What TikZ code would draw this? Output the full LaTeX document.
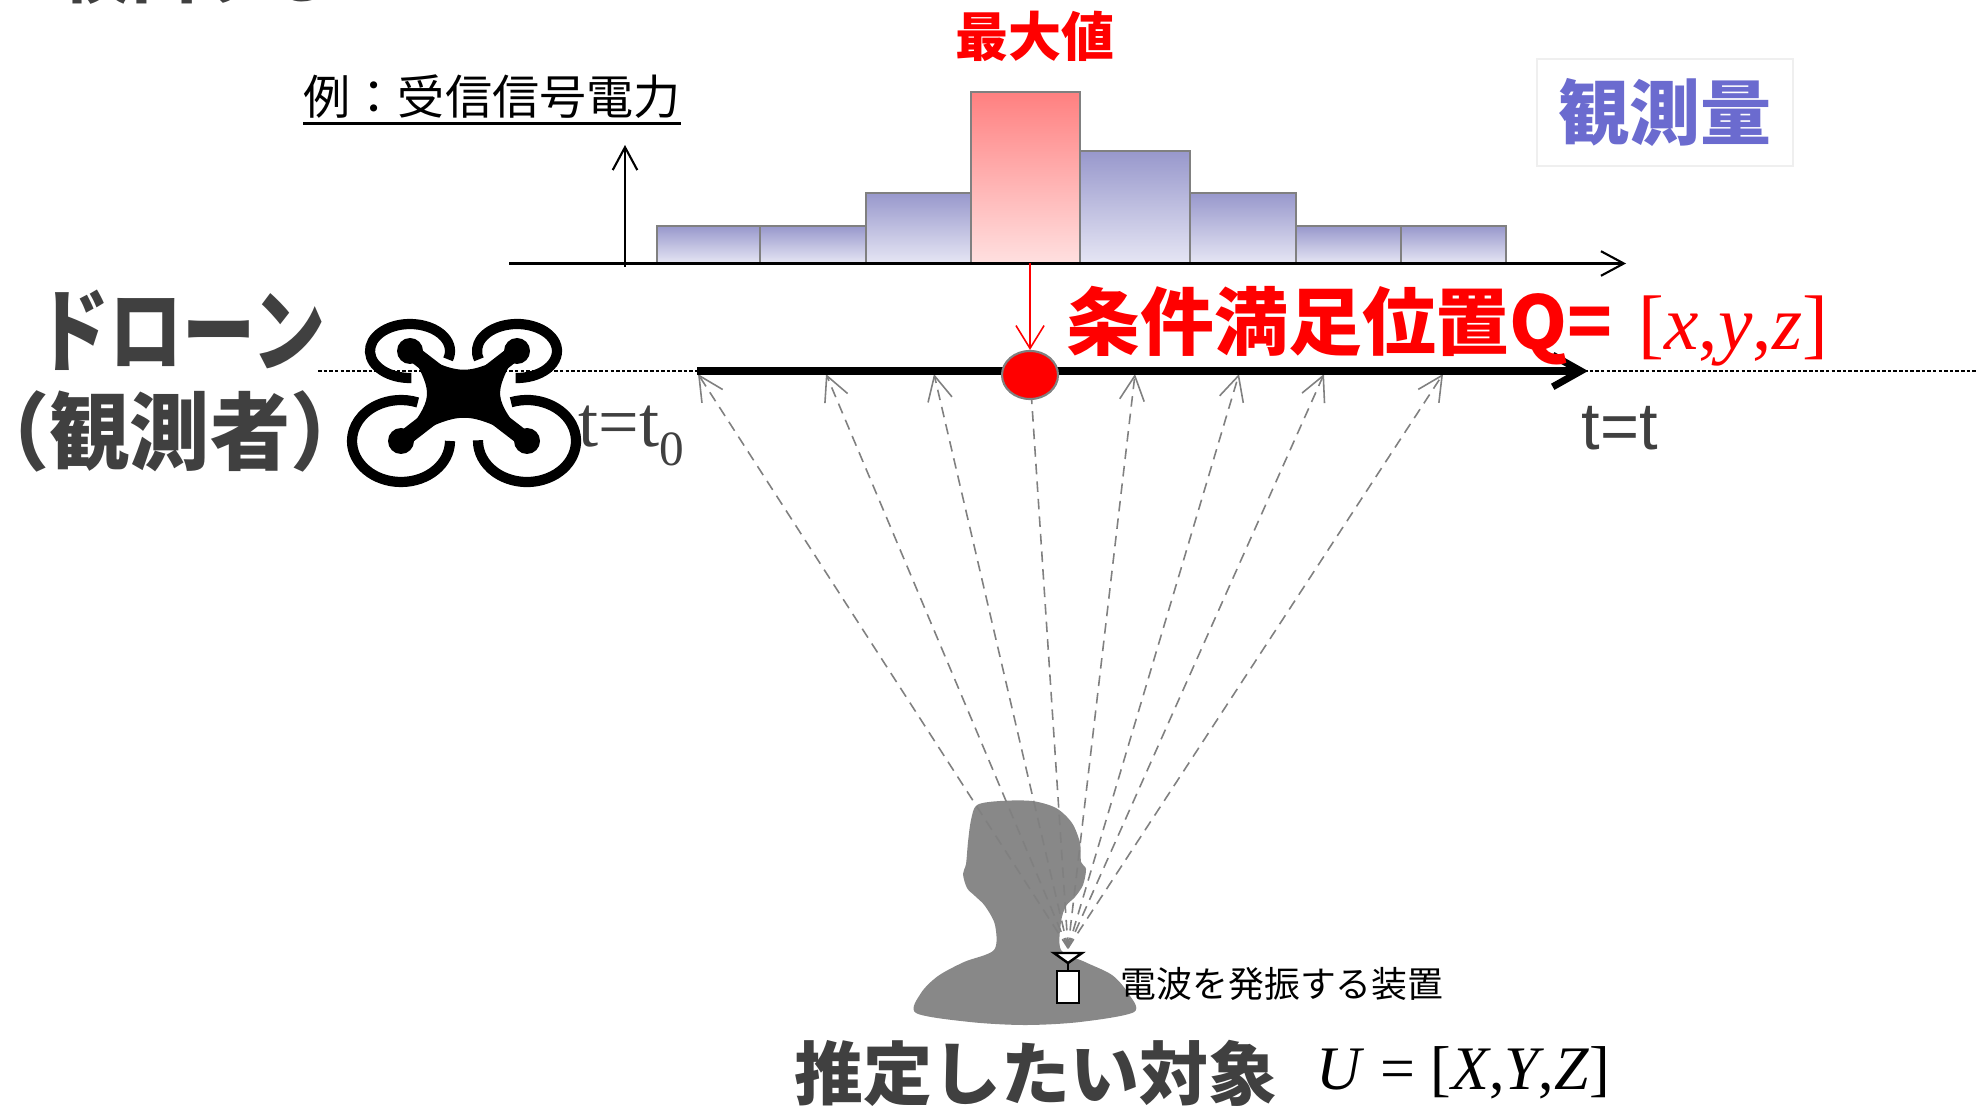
\documentclass[tikz,border=0pt]{standalone}
\usepackage{fontspec}
\setmainfont{Liberation Serif}
\setsansfont{Liberation Sans}
\newfontfamily\jp{Noto Sans CJK JP}
\usetikzlibrary{positioning,arrows.meta,shapes.geometric}

\definecolor{darktext}{HTML}{404040}
\definecolor{barblue}{HTML}{9898CC}
\definecolor{barpale}{HTML}{E6E6F4}
\definecolor{barred}{HTML}{FF8080}
\definecolor{barpink}{HTML}{FFE0E0}
\definecolor{obsblue}{HTML}{6B6BCF}
\definecolor{boxgray}{HTML}{EFEFEF}
\definecolor{headgray}{HTML}{888888}

\begin{document}
\begin{tikzpicture}[x=0.01cm, y=-0.01cm,
		bar/.style={draw=gray, line width=0.6pt, top color=barblue, bottom color=barpale},
		ray/.style={draw=gray, line width=0.45pt, dash pattern=on 3pt off 2pt, -{Straight Barb[length=7pt, width=7pt]}},
		axis/.style={line width=0.6pt, -{Straight Barb[length=6.5pt, width=7pt]}}]
		%\draw[help lines] (0, 0) grid (1977, 1110);
		\useasboundingbox (0, 0) rectangle (1977, 1110);
		\fill[white] (0, 0) rectangle (1977, 1110);
		\node[anchor = base west, inner sep = 0, text = darktext, font = \jp\bfseries\fontsize{19.3pt}{19.3pt}\selectfont] (heading) at (62, -2) {検出する};

		% histogram of received power
		\node[anchor = base west, inner sep = 0, font = \jp\fontsize{13.4pt}{13.4pt}\selectfont] (ex) at (303, 115) {例：受信信号電力};
		\draw[line width = 0.8pt] ([yshift = -1.2pt]ex.south west) -- ([yshift = -1.2pt]ex.south east);
		\foreach \xa/\xb/\ya in {657/760/226, 760/866/226, 866/971/193, 1080/1190/151, 1190/1296/193, 1296/1401/226, 1401/1506/226}
			\shadedraw[bar] (\xa, \ya) rectangle (\xb, 263.5);
		\shadedraw[bar, top color = barred, bottom color = barpink] (971, 92) rectangle (1080, 263.5);
		\coordinate (xa0) at (509, 263.5); \coordinate (xa1) at (1626, 263.5);
		\coordinate (ya0) at (625, 267); \coordinate (ya1) at (625, 145);
		\draw[axis] (xa0) -- (xa1);
		\draw[axis] (ya0) -- (ya1);
		\node[text = red, font = \jp\bfseries\fontsize{15.1pt}{15.1pt}\selectfont] (maxlbl) at (1035, 36) {最大値};
		\node[draw = boxgray, line width = 0.5pt, minimum width = 2.56cm, minimum height = 1.07cm, text = obsblue, font = \jp\bfseries\fontsize{20.2pt}{20.2pt}\selectfont] (obs) at (1665, 112.5) {観測量};

		% flight path
		\coordinate (trackL) at (318, 371); \coordinate (trackR) at (1977, 371);
		\draw[line width = 0.45pt, dash pattern = on 1pt off 0.6pt] (trackL) -- (trackR);

		% person with transmitter
		\fill[headgray] plot[smooth cycle, tension = 0.5] coordinates {(994, 950) (995, 925) (985, 906) (975, 896) (967, 888) (963, 874) (966, 864) (968, 842) (971, 820) (977, 805) (1000, 801) (1032, 801) (1056, 808) (1072, 823) (1080, 843) (1081, 862) (1086, 869) (1083, 885) (1075, 897) (1066, 906) (1061, 922) (1061, 950) (1085, 962) (1112, 975) (1128, 993) (1134, 1012) (1080, 1022) (1025, 1025) (970, 1022) (916, 1013) (921, 993) (938, 976) (964, 962)};
		\node[draw, fill = white, line width = 0.8pt, minimum width = 0.22cm, minimum height = 0.32cm, inner sep = 0] (dev) at (1068, 987) {};
		\coordinate (ant) at (1068, 963);
		\draw[line width = 0.7pt] (dev.north) -- (ant);
		\draw[line width = 0.7pt, fill = white] (ant) -- (1054, 953) -- (1082, 953) -- cycle;

		% rays to the drone positions
		\coordinate (src) at (1068, 948);
		\coordinate (peak) at (1030, 375);
		\foreach \x [count = \i] in {698, 826, 934, 1135, 1239, 1324, 1443} {
			\coordinate (r\i) at (\x, 374);
			\draw[ray] (src) -- (r\i);
		}
		\draw[ray, -] (src) -- (peak);

		\coordinate (t0) at (697, 371); \coordinate (t1) at (1588, 371);
		\draw[line width = 2pt, -{Straight Barb[length = 8pt, width = 9pt]}] (t0) -- (t1);
		\node[ellipse, fill = red, draw = gray, line width = 0.6pt, minimum width = 0.56cm, minimum height = 0.48cm, inner sep = 0] (hit) at (peak) {};
		\coordinate (maxbar) at (1030, 263.5);
		\draw[red, line width = 0.45pt, -{Straight Barb[length = 6.5pt, width = 8pt]}] (maxbar) -- (hit.north);

		% drone
		\foreach \cx/\cy/\rx/\ry/\a in {410/351/40/27/88, 517/351/40/27/162, 401/441/49/41/0, 527/441/49/41/251}
			\draw[line width = 2.9pt, shift = {(\cx, \cy)}, xscale = \rx, yscale = \ry] (\a:1) arc[start angle = \a, delta angle = 290, radius = 1];
		\fill (410, 351) .. controls (464, 376) .. (517, 351) .. controls (493, 396) .. (527, 441) .. controls (464, 410) .. (401, 441) .. controls (434, 396) .. (410, 351) -- cycle;
		\draw[line width = 4.6pt] (410, 351) -- (527, 441) (517, 351) -- (401, 441);
		\foreach \p in {(410, 351), (517, 351), (401, 441), (527, 441)} \fill \p circle[radius = 13];

		% labels
		\node[text = red, anchor = base west, inner sep = 0, font = \jp\bfseries\fontsize{21pt}{21pt}\selectfont] (cond) at (1066, 350) {条件満足位置Q=};
		\node[text = red, base right = 7pt of cond, inner sep = 0, font = \fontsize{22pt}{22pt}\selectfont] (qvec) {[\textit{x},\textit{y},\textit{z}]};
		\node[text = darktext, inner sep = 0, font = \jp\bfseries\fontsize{26pt}{26pt}\selectfont] (drone1) at (181, 330) {\scalebox{0.8}[1]{ドローン}};
		\node[text = darktext, inner sep = 0, font = \jp\bfseries\fontsize{24pt}{24pt}\selectfont] (drone2) at (170, 431) {\scalebox{0.95}[1]{\kern-0.45em（観測者）\kern-0.45em}};
		\node[text = darktext, anchor = base west, inner sep = 0, font = \fontsize{20.5pt}{20.5pt}\selectfont] (tstart) at (578, 447) {t=t\raisebox{-0.25em}{\fontsize{14pt}{14pt}\selectfont 0}};
		\node[text = darktext, anchor = base, inner sep = 0, font = \sffamily\fontsize{19pt}{19pt}\selectfont] (tend) at (1620, 450) {t=t};
		\node[anchor = base west, inner sep = 0, font = \jp\fontsize{10.2pt}{10.2pt}\selectfont] (devlbl) at (1120, 997) {電波を発振する装置};
		\node[text = darktext, font = \jp\bfseries\fontsize{19.6pt}{19.6pt}\selectfont] (target) at (1036, 1073) {推定したい対象};
		\node[anchor = base west, inner sep = 0, font = \fontsize{17.6pt}{17.6pt}\selectfont] (uvec) at (1316, 1089) {\textit{U} = [\textit{X},\textit{Y},\textit{Z}]};
	\end{tikzpicture}
\end{document}
